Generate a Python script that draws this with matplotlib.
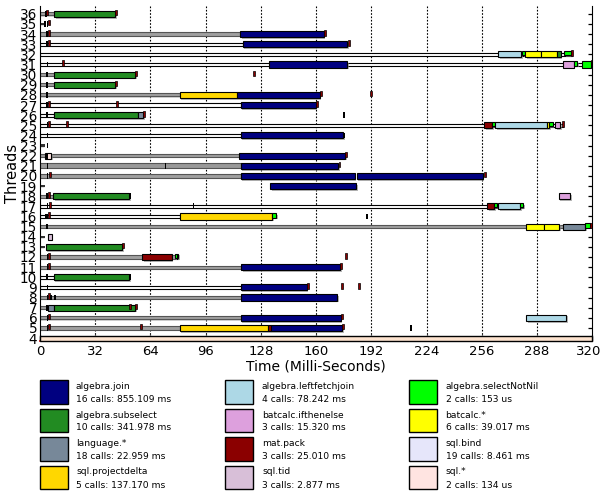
import matplotlib
matplotlib.use("Agg")
import matplotlib.pyplot as plt
from matplotlib.patches import Rectangle
import matplotlib.patheffects as pe
import matplotlib.transforms as mtransforms

# ---------------- data ----------------
threads = list(range(4, 37))
xticks = [0, 32, 64, 96, 128, 160, 192, 224, 256, 288, 320]

# thin "idle" lines: (thread, start, end, fill)
idle_threads = [36, 34, 33, 32, 31, 30, 29, 28, 27, 26, 25, 24, 22, 21, 20, 18, 17, 16, 15, 12, 11, 10, 9, 8, 7, 6, 5]
idle_start = [0, 0, 0, 0, 0, 0, 0, 0, 0, 0, 0, 0, 0, 0, 0, 0, 0, 0, 0, 0, 0, 0, 0, 0, 0, 0, 0]
idle_end = [8.1, 116, 117.5, 308, 320, 8.1, 8.1, 81, 116.3, 8.1, 303, 116.3, 115.2, 116.3, 116.3, 7.7, 280, 81, 302.8, 80, 116.7, 8, 116.3, 116.3, 4.4, 116.3, 81]
idle_fill = ['g', 'g', 'w', 'w', 'w', 'g', 'g', 'g', 'w', 'w', 'w', 'w', 'g', 'G', 'g', 'g', 'w', 'w', 'g', 'g', 'g', 'w', 'w', 'g', 'g', 'g', 'g']

# operation bars
bar_thread = [36, 34, 33, 32, 32, 32, 32, 32, 32, 31, 31, 31, 31, 30, 29, 28, 28, 27,
              26, 26, 25, 25, 25, 25, 25, 25, 24, 22, 22, 21, 20, 20, 19, 18, 18,
              17, 17, 17, 17, 16, 16, 15, 15, 15, 15, 14, 13, 12, 12, 11, 10, 9, 8,
              7, 7, 6, 6, 5, 5, 5, 4]
bar_start = [8.1, 116, 117.5, 265.6, 279.5, 281, 290.3, 299.6, 303.8, 132.5, 302.8, 309.2, 314, 8.1, 8.1, 81, 114.2, 116.3,
             8.1, 57, 257.5, 262, 263.7, 293.8, 295.2, 298.4, 116.3, 3.0, 115.2, 116.3, 116.3, 183.4, 133.5, 7.7, 300.5,
             258.9, 263, 265.3, 278.3, 81, 134.6, 281.6, 291.9, 302.8, 316, 4.4, 3.3, 59.2, 78, 116.7, 8, 116.3, 116.3,
             4.4, 8.3, 116.3, 281.6, 81, 132.1, 133.7, 0]
bar_end = [43.4, 164.4, 178, 278.8, 281, 290.3, 299.6, 301.6, 307.6, 178, 309.2, 311.3, 319.4, 55, 43.4, 114.2, 162, 159.7,
           57, 59.6, 262, 263.5, 293.8, 295.2, 297, 301.3, 175.5, 6.5, 177, 172.6, 182.3, 256.5, 183.3, 51.7, 307.3,
           263, 265, 278.2, 280, 134.6, 137, 291.9, 300.9, 316, 318.6, 6.8, 47.8, 76.2, 80, 174, 51.5, 154.5, 172,
           8.3, 55, 174.2, 304.8, 132.1, 133.7, 175, 320]
bar_op = ['subselect', 'join', 'join', 'leftfetchjoin', 'selectNotNil', 'batcalc', 'batcalc', 'subselect', 'selectNotNil',
          'join', 'ifthenelse', 'selectNotNil', 'selectNotNil', 'subselect', 'subselect', 'projectdelta', 'join', 'join',
          'subselect', 'language', 'matpack', 'selectNotNil', 'leftfetchjoin', 'batcalc', 'selectNotNil', 'ifthenelse',
          'join', 'sqlstar', 'join', 'join', 'join', 'join', 'join', 'subselect', 'ifthenelse',
          'matpack', 'selectNotNil', 'leftfetchjoin', 'selectNotNil', 'projectdelta', 'selectNotNil',
          'batcalc', 'batcalc', 'language', 'selectNotNil', 'tid', 'subselect', 'matpack', 'selectNotNil', 'join',
          'subselect', 'join', 'join', 'language', 'subselect', 'join', 'leftfetchjoin', 'projectdelta', 'matpack',
          'join', 'row4']

# tiny events: (thread, time, kind) k = black, r = dark red
mark_thread = [36, 36, 36, 35, 35, 35, 34, 34, 34, 33, 33, 33, 32, 31, 31, 30, 30, 30, 29, 29, 28, 28, 28,
               27, 27, 27, 27, 26, 26, 26, 25, 25, 25, 25, 24, 24, 23, 22, 22, 21, 21, 21, 20, 20, 20, 18, 18, 18,
               17, 17, 17, 16, 16, 16, 16, 15, 15, 13, 12, 12, 12, 12, 11, 11, 11, 10, 10, 9, 9, 9, 9, 8, 8, 8, 8,
               7, 7, 7, 6, 6, 6, 5, 5, 5, 5, 5, 31]
mark_time = [3.5, 4.2, 44, 3.0, 4.3, 5.0, 4.0, 5.2, 165, 4.0, 5.2, 178.8, 308.2, 13.5, 319.5, 4.0, 55.6, 124, 4.0, 44, 4.0, 162.6, 191.5,
             4.0, 5.2, 44.4, 160.3, 4.0, 60, 176, 4.4, 5.2, 15.4, 303, 4.4, 176, 4.4, 4.2, 177.5, 4.4, 72.7, 173.5, 4.4, 5.5, 257.8, 4.2, 5.3, 52.2,
             4.4, 5.5, 89, 3.6, 4.4, 5.2, 189.6, 4.0, 319, 48.3, 4.4, 5.3, 79.6, 177.5, 4.4, 5.3, 174.6, 4.0, 52, 4.4, 155, 175, 184.6, 4.4, 5.3, 6.2, 8.7,
             51.9, 55.6, 4.0, 4.4, 5.3, 174.8, 4.4, 5.3, 58.3, 175.6, 215, 4.4]
mark_kind = ['k', 'r', 'r', 'k', 'k', 'r', 'k', 'r', 'r', 'k', 'r', 'r', 'r', 'r', 'r', 'k', 'r', 'r', 'k', 'r', 'k', 'r', 'r',
             'k', 'r', 'r', 'r', 'k', 'r', 'k', 'k', 'r', 'r', 'r', 'k', 'k', 'k', 'k', 'r', 'k', 'k', 'r', 'k', 'r', 'r', 'k', 'r', 'k',
             'k', 'r', 'k', 'k', 'k', 'r', 'k', 'k', 'r', 'r', 'k', 'r', 'k', 'r', 'k', 'r', 'r', 'k', 'k', 'k', 'r', 'r', 'r', 'k', 'r', 'k', 'k',
             'r', 'r', 'k', 'k', 'r', 'r', 'k', 'r', 'r', 'r', 'k', 'k']

# legend
legend_keys = ['join', 'leftfetchjoin', 'selectNotNil', 'subselect', 'ifthenelse', 'batcalc',
               'language', 'matpack', 'bind', 'projectdelta', 'tid', 'sqlstar']
legend_names = ['algebra.join', 'algebra.leftfetchjoin', 'algebra.selectNotNil',
                'algebra.subselect', 'batcalc.ifthenelse', 'batcalc.*',
                'language.*', 'mat.pack', 'sql.bind',
                'sql.projectdelta', 'sql.tid', 'sql.*']
legend_stats = ['16 calls: 855.109 ms', '4 calls: 78.242 ms', '2 calls: 153 us',
                '10 calls: 341.978 ms', '3 calls: 15.320 ms', '6 calls: 39.017 ms',
                '18 calls: 22.959 ms', '3 calls: 25.010 ms', '19 calls: 8.461 ms',
                '5 calls: 137.170 ms', '3 calls: 2.877 ms', '2 calls: 134 us']

colors = {
    'join': '#000080', 'leftfetchjoin': '#add8e6', 'selectNotNil': '#00ff00',
    'subselect': '#228b22', 'ifthenelse': '#dda0dd', 'batcalc': '#ffff00',
    'language': '#778899', 'matpack': '#8b0000', 'bind': '#e6e6fa',
    'projectdelta': '#ffd700', 'tid': '#d8bfd8', 'sqlstar': '#ffe4e1',
    'row4': '#fde3cf',
}

# ---------------- figure ----------------
W, H = 603, 493
fig = plt.figure(figsize=(W / 100, H / 100), dpi=100)
ax = fig.add_axes([40 / W, 1 - 340.7 / H, 552.3 / W, 334.7 / H])
ax.set_xlim(0, 320)
ax.set_ylim(3.74, 36.77)

shadow = [pe.SimplePatchShadow(offset=(1.2, -1.2), shadow_rgbFace='#888888', alpha=0.6), pe.Normal()]

for x in xticks[1:-1]:
    ax.axvline(x, color='black', linestyle=(0, (1.5, 1.5)), linewidth=0.8, zorder=1)

# start stubs
for t in threads:
    if t in (4,):
        continue
    ax.add_patch(Rectangle((0, t - 0.12), 2.8, 0.24, facecolor='#333333', edgecolor='none', zorder=2))

fillmap = {'w': 'white', 'g': '#a0a0a0', 'G': '#999999'}
for t, s, e, f in zip(idle_threads, idle_start, idle_end, idle_fill):
    h = 0.5 if f == 'G' else 0.32
    ax.add_patch(Rectangle((s, t - h / 2), e - s, h, facecolor=fillmap[f],
                           edgecolor='black' if f == 'w' else '#555555', linewidth=0.8, zorder=2,
                           path_effects=[pe.SimplePatchShadow(offset=(0.8, -0.8), shadow_rgbFace='#aaaaaa', alpha=0.5), pe.Normal()]))

for t, s, e, op in zip(bar_thread, bar_start, bar_end, bar_op):
    if op == 'row4':
        ax.add_patch(Rectangle((s, 3.74), e - s, 0.5, facecolor=colors[op], edgecolor='black',
                               linewidth=1.0, zorder=3, clip_on=False))
        continue
    h = 0.6
    yoff = 0
    if op == 'selectNotNil' and (e - s) < 5:
        h = 0.45
        yoff = 0.12
    ax.add_patch(Rectangle((s, t - h / 2 + yoff), e - s, h, facecolor=colors[op], edgecolor='black',
                           linewidth=0.8, zorder=4, path_effects=shadow))

for t, m, k in zip(mark_thread, mark_time, mark_kind):
    if k == 'k':
        ax.add_patch(Rectangle((m - 0.5, t - 0.28), 1.0, 0.56, facecolor='black', edgecolor='none', zorder=5))
    else:
        ax.add_patch(Rectangle((m - 0.5, t - 0.15), 1.1, 0.55, facecolor='#8b0000', edgecolor='black',
                               linewidth=0.5, zorder=5))

ax.set_xticks(xticks)
ax.set_yticks(threads)
ax.tick_params(axis='both', direction='in', length=4, width=0.9,
               left=True, right=True, bottom=True, top=False, pad=3)
ax.tick_params(axis='x', labelsize=9.5)
ax.tick_params(axis='y', length=3, pad=2, labelsize=9.8)
ax.spines['top'].set_visible(False)
ax.spines['bottom'].set_color('#e00000')
ax.spines['bottom'].set_linewidth(1.2)
ax.set_xlabel('Time (Milli-Seconds)', fontsize=10, labelpad=1)
ax.set_ylabel('Threads', fontsize=10.5, labelpad=0)

# nudge the last x tick label so it stays inside the canvas
fig.canvas.draw()
last_lbl = ax.get_xticklabels()[-1]
last_lbl.set_transform(last_lbl.get_transform() + mtransforms.ScaledTranslation(-4 / 100, 0, fig.dpi_scale_trans))

# ---------------- legend ----------------
col_box_x = [40, 225, 408.5]
col_text_x = [76, 262, 445.5]
row_top = [380, 408.5, 437, 465.5]
box_w, box_h = 28, 23.5
for i, (key, name, stat) in enumerate(zip(legend_keys, legend_names, legend_stats)):
    r, c = divmod(i, 3)
    x0 = col_box_x[c]
    y0 = row_top[r]
    fig.add_artist(Rectangle((x0 / W, 1 - (y0 + box_h) / H), box_w / W, box_h / H,
                             transform=fig.transFigure, facecolor=colors[key],
                             edgecolor='black', linewidth=1.0))
    fig.text(col_text_x[c] / W, 1 - (y0 + 6.5) / H, name, fontsize=6.6,
             va='center', ha='left')
    fig.text(col_text_x[c] / W, 1 - (y0 + 19.5) / H, stat, fontsize=6.6,
             va='center', ha='left')

fig.savefig('out.png', dpi=100)
